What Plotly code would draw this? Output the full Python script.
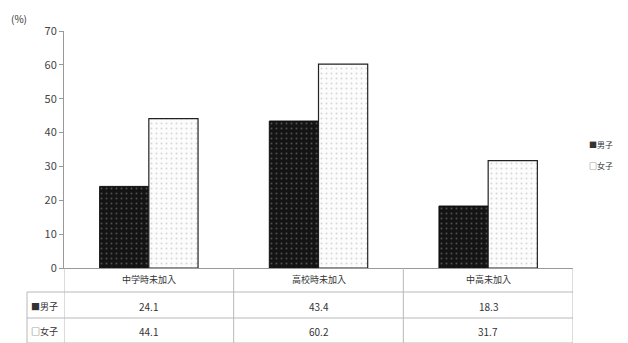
import plotly.graph_objects as go

categories = ["中学時未加入", "高校時未加入", "中高未加入"]
male = [24.1, 43.4, 18.3]
female = [44.1, 60.2, 31.7]
series_names = ["男子", "女子"]
y_ticks = [0, 10, 20, 30, 40, 50, 60, 70]

FONT = "Noto Sans CJK JP, Noto Sans, sans-serif"
GRID = "#b8b8b8"
TXT = "#333333"

fig = go.Figure()
fig.add_trace(go.Bar(
    x=categories, y=male, name=series_names[0],
    marker=dict(color="#141414", line=dict(color="#111111", width=1),
                pattern=dict(shape=".", fgcolor="#8a8a8a", bgcolor="#141414",
                             size=5, solidity=0.12, fillmode="overlay")),
))
fig.add_trace(go.Bar(
    x=categories, y=female, name=series_names[1],
    marker=dict(color="#ffffff", line=dict(color="#222222", width=1.2),
                pattern=dict(shape=".", fgcolor="#b0b0b0", bgcolor="#fcfcfc",
                             size=5, solidity=0.12, fillmode="overlay")),
))

# data table under the plot: rows positioned in paper units (plot height 237 px)
ph = 237.0
pw = 509.0
def py(px_below):
    return -px_below / ph

shapes = []
col_edges = [-0.5, 0.5, 1.5, 2.5]
for xe in col_edges:
    shapes.append(dict(type="line", xref="x", yref="paper", x0=xe, x1=xe,
                       y0=0, y1=py(76), line=dict(color=GRID, width=1)))
# left label column border
shapes.append(dict(type="line", xref="paper", yref="paper", x0=-37/pw, x1=-37/pw,
                   y0=py(24), y1=py(76), line=dict(color=GRID, width=1)))
for below in (24, 50, 75):
    shapes.append(dict(type="line", xref="paper", yref="paper", x0=-37/pw, x1=1,
                       y0=py(below), y1=py(below), line=dict(color=GRID, width=1)))

def note(x, y, text, size, xref="x", xanchor="center"):
    return dict(x=x, y=y, xref=xref, yref="paper", text=text, showarrow=False,
                xanchor=xanchor, yanchor="middle",
                font=dict(size=size, color=TXT, family=FONT))

annotations = []
for i, c in enumerate(categories):
    annotations.append(note(i, py(11), c, 9))
    annotations.append(note(i, py(38), f"{male[i]:.1f}", 10))
    annotations.append(note(i, py(63), f"{female[i]:.1f}", 10))
annotations.append(note(-35/pw, py(38), "■" + series_names[0], 9, "paper", "left"))
annotations.append(note(-35/pw, py(63), "□" + series_names[1], 9, "paper", "left"))
annotations.append(note(-55/pw, 1 + 12/ph, "(%)", 10, "paper", "left"))
# legend at right
annotations.append(note(1 + 14/pw, 1 - 113/ph, "■" + series_names[0], 8, "paper", "left"))
annotations.append(note(1 + 14/pw, 1 - 134/ph, "□" + series_names[1], 8, "paper", "left"))

fig.update_layout(
    width=628, height=343,
    margin=dict(l=64, r=55, t=31, b=75),
    paper_bgcolor="white", plot_bgcolor="white",
    barmode="group", bargap=0.42, bargroupgap=0,
    showlegend=False,
    font=dict(family=FONT, color=TXT),
    shapes=shapes, annotations=annotations,
    xaxis=dict(showticklabels=False, showline=True, linecolor="#999999", linewidth=1,
               range=[-0.5, 2.5], ticks="", showgrid=False, zeroline=False),
    yaxis=dict(range=[0, 70], tickvals=y_ticks, showline=True, linecolor="#999999",
               linewidth=1, ticks="outside", ticklen=4, tickcolor="#999999",
               showgrid=False, zeroline=False,
               tickfont=dict(size=11, color="#444444", family=FONT)),
)

fig.write_html("out.html")
